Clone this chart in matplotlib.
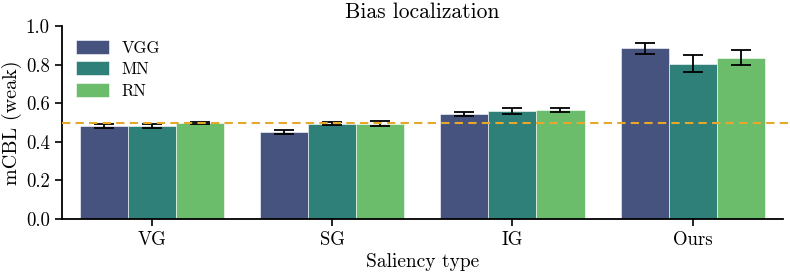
import matplotlib
matplotlib.use("Agg")
import matplotlib.pyplot as plt
import numpy as np

plt.rcParams['font.family'] = ['cmr10', 'DejaVu Serif']
plt.rcParams['mathtext.fontset'] = 'cm'
plt.rcParams['axes.formatter.use_mathtext'] = True

categories = ["VG", "SG", "IG", "Ours"]
models = ["VGG", "MN", "RN"]
values = {
    "VGG": [0.481, 0.452, 0.545, 0.884],
    "MN": [0.481, 0.495, 0.561, 0.806],
    "RN": [0.498, 0.495, 0.564, 0.837],
}
errors = {
    "VGG": [0.010, 0.009, 0.012, 0.027],
    "MN": [0.009, 0.009, 0.015, 0.042],
    "RN": [0.007, 0.012, 0.011, 0.039],
}
colors = ["#46537f", "#2e8079", "#6bbd6c"]
threshold = 0.5

fig = plt.figure(figsize=(7.9, 2.72), dpi=100)
ax = fig.add_axes([0.078, 0.195, 0.913, 0.709])

x = np.arange(len(categories))
w = 0.8 / len(models)
for i, m in enumerate(models):
    pos = x - 0.4 + w * (i + 0.5)
    ax.bar(pos, values[m], width=w, color=colors[i], label=m,
           edgecolor="white", linewidth=0.4, zorder=2)
    ax.errorbar(pos, values[m], yerr=errors[m], fmt="none", ecolor="black",
                elinewidth=1.3, capsize=7, capthick=1.3, zorder=3)

ax.axhline(threshold, xmin=0, xmax=1.01, color="#e5a82a", linestyle="--",
           linewidth=1.5, dashes=(4, 2.5), clip_on=False, zorder=4)

ax.set_xlim(-0.5, 3.5)
ax.set_ylim(0, 1.0)
ax.set_xticks(x)
ax.set_xticklabels(categories)
ax.set_yticks([0.0, 0.2, 0.4, 0.6, 0.8, 1.0])
ax.set_yticklabels(["0.0", "0.2", "0.4", "0.6", "0.8", "1.0"])
ax.tick_params(labelsize=13.5, length=5, width=1.2)
ax.set_xlabel("Saliency type", fontsize=14, labelpad=3)
ax.set_ylabel("mCBL (weak)", fontsize=14.5, labelpad=3)
ax.set_title("Bias localization", fontsize=15.5, pad=6)
for s in ["top", "right"]:
    ax.spines[s].set_visible(False)
for s in ["left", "bottom"]:
    ax.spines[s].set_linewidth(1.3)

ax.legend(loc="upper left", frameon=False, fontsize=12, handlelength=2.0,
          handleheight=0.9, borderaxespad=0.6, labelspacing=0.35,
          handletextpad=0.75, bbox_to_anchor=(-0.003, 1.015))

fig.savefig("out.png", dpi=100)
